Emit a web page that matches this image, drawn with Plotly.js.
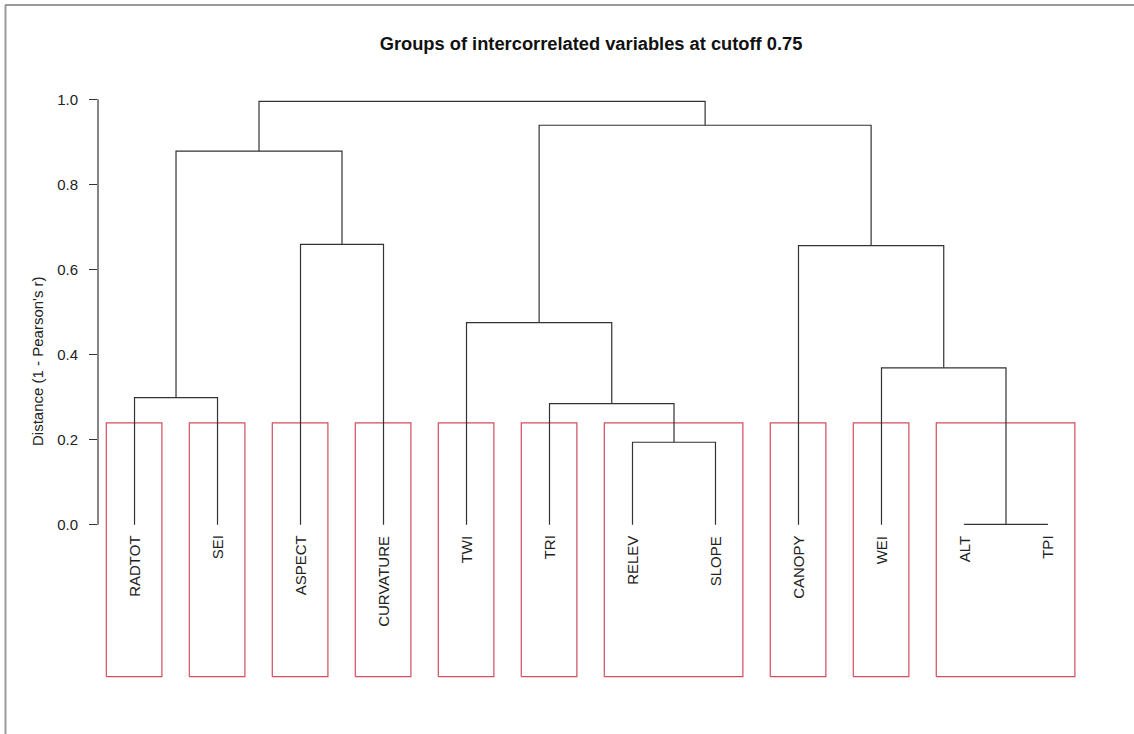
<!DOCTYPE html>
<html><head><meta charset="utf-8">
<script src="https://cdn.plot.ly/plotly-3.0.1.min.js"></script>
<style>html,body{margin:0;padding:0;background:#fff;}#chart{width:1134px;height:734px;}</style>
</head><body><div id="chart"></div>
<script>
// ---- data (dendrogram of variables, leaves in plotted order) ----
const leafLabels = ['RADTOT','SEI','ASPECT','CURVATURE','TWI','TRI','RELEV','SLOPE','CANOPY','WEI','ALT','TPI'];
// R-style merge table: negative = leaf index (1-based), positive = earlier merge step
const mergeLeft   = [-11, -7, -6, -1, -10, -5, -9, -3, 4, 6, 9];
const mergeRight  = [-12, -8,  2, -2,   1,  3,  5, -4, 8, 7, 10];
const mergeHeight = [0.001, 0.194, 0.285, 0.299, 0.369, 0.475, 0.656, 0.659, 0.878, 0.939, 0.995];
const cutHeight = 0.2395;
const yTicks = [0.0, 0.2, 0.4, 0.6, 0.8, 1.0];
const yTickText = ['0.0','0.2','0.4','0.6','0.8','1.0'];

// ---- geometry ----
const W = 1134, H = 734;
const M = {l: 98, r: 50, t: 78, b: 56};
const pw = W - M.l - M.r, ph = H - M.t - M.b;
const yRange = [-0.36, 1.05];
const xRange = [0.56, leafLabels.length + 0.44];
const boxBottom = -0.357;

function nodeX(ref, nx){ return ref < 0 ? -ref : nx[ref-1]; }
function nodeY(ref){ return ref < 0 ? 0 : mergeHeight[ref-1]; }
const nx = [];
const segX = [], segY = [];
for (let k = 0; k < mergeHeight.length; k++) {
  const a = mergeLeft[k], b = mergeRight[k], h = mergeHeight[k];
  const xa = nodeX(a, nx), xb = nodeX(b, nx);
  nx.push((xa + xb) / 2);
  segX.push(xa, xa, xb, xb, null);
  segY.push(nodeY(a), h, h, nodeY(b), null);
}

// leaf spans of each merge
function span(ref){
  if (ref < 0) return [-ref, -ref];
  const l = span(mergeLeft[ref-1]), r = span(mergeRight[ref-1]);
  return [Math.min(l[0], r[0]), Math.max(l[1], r[1])];
}
// clusters: children of merges above cut that are below the cut
const clusters = [];
for (let k = 0; k < mergeHeight.length; k++) {
  if (mergeHeight[k] >= cutHeight) {
    [mergeLeft[k], mergeRight[k]].forEach(ch => {
      if (nodeY(ch) < cutHeight) clusters.push(span(ch));
    });
  }
}
clusters.sort((a, b) => a[0] - b[0]);
const boxX = [], boxY = [];
clusters.forEach(([lo, hi]) => {
  const x0 = lo - 0.34, x1 = hi + 0.33;
  boxX.push(x0, x1, x1, x0, x0, null);
  boxY.push(boxBottom, boxBottom, cutHeight, cutHeight, boxBottom, null);
});

const traces = [
  {type: 'scatter', mode: 'lines', x: boxX, y: boxY, hoverinfo: 'skip',
   line: {color: '#D04E5E', width: 1.2}, showlegend: false},
  {type: 'scatter', mode: 'lines', x: segX, y: segY, hoverinfo: 'skip',
   line: {color: '#333333', width: 1.2}, showlegend: false}
];

const font = 'Liberation Sans, Arial, sans-serif';
const annotations = leafLabels.map((lab, i) => ({
  x: i + 1, y: 0, xref: 'x', yref: 'y', text: lab, showarrow: false,
  textangle: -90, xanchor: 'center', yanchor: 'top', yshift: -9,
  font: {family: font, size: 15, color: '#222'}
}));
annotations.push({
  xref: 'paper', yref: 'paper', x: (37 - M.l) / pw, y: (H - M.b - 361) / ph,
  text: "Distance (1 - Pearson's r)", showarrow: false, textangle: -90,
  xanchor: 'center', yanchor: 'middle', font: {family: font, size: 15, color: '#222'}
});

const px2x = p => (p - M.l) / pw;
const px2y = p => (H - M.b - p) / ph;
const shapes = [
  {type: 'line', xref: 'paper', yref: 'y', x0: 0, x1: 0, y0: 0, y1: 1,
   line: {color: '#333333', width: 1.2}},
  {type: 'line', xref: 'paper', yref: 'paper', x0: px2x(5), x1: px2x(1140), y0: px2y(5), y1: px2y(5),
   line: {color: '#9a9a9a', width: 2}},
  {type: 'line', xref: 'paper', yref: 'paper', x0: px2x(5.5), x1: px2x(5.5), y0: px2y(5), y1: px2y(740),
   line: {color: '#9a9a9a', width: 2}}
];

const layout = {
  width: W, height: H, margin: M, paper_bgcolor: '#fff', plot_bgcolor: '#fff',
  title: {text: 'Groups of intercorrelated variables at cutoff 0.75', x: 0.5, xref: 'paper',
          xanchor: 'center', y: 1 - 44 / H, yref: 'container', yanchor: 'middle',
          font: {family: font, size: 18.3, color: '#111', weight: 'bold'}},
  xaxis: {range: xRange, visible: false, showgrid: false, zeroline: false},
  yaxis: {range: yRange, showgrid: false, zeroline: false, showline: false,
          tickvals: yTicks, ticktext: yTickText, ticks: 'outside', ticklen: 8,
          tickwidth: 1.2, tickcolor: '#333', ticklabelstandoff: 8,
          tickfont: {family: font, size: 15, color: '#222'}},
  annotations: annotations, shapes: shapes, showlegend: false
};
Plotly.newPlot('chart', traces, layout, {displayModeBar: false, staticPlot: true});
</script></body></html>
